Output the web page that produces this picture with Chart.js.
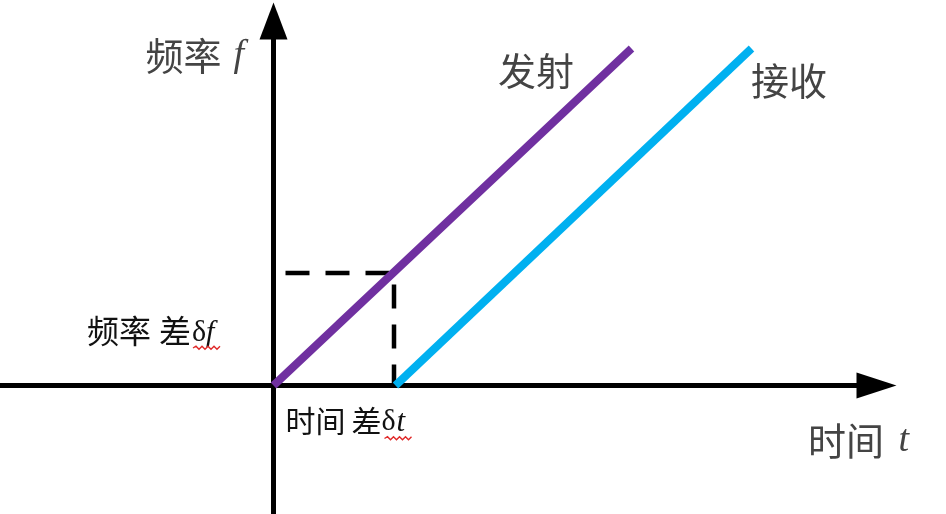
<!DOCTYPE html>
<html>
<head>
<meta charset="utf-8">
<script src="https://cdn.jsdelivr.net/npm/chart.js@4.4.0/dist/chart.umd.min.js"></script>
<style>
  html, body { margin: 0; padding: 0; background: #fff; }
  #wrap { width: 946px; height: 514px; }
</style>
</head>
<body>
<div id="wrap"><canvas id="chirp"></canvas></div>
<script>
// transmitted / received chirp (time, frequency)
const sendT = [0, 358];
const sendF = [0, 337];
const recvT = [122, 478];
const recvF = [0, 337];
// dashed guide: delta f level and delta t
const guideT = [12, 120.5, 120.5];
const guideF = [112.5, 112.5, 0];
// axis line extents
const axisT = [-274, 584];
const axisF = [-129, 347];

const pts = (xs, ys) => xs.map((x, i) => ({ x: x, y: ys[i] }));

// arrow heads + labels
const sketchPlugin = {
  id: "sketch",
  afterDatasetsDraw(chart) {
    const ctx = chart.ctx;
    const sx = chart.scales.x, sy = chart.scales.y;
    const x0 = sx.getPixelForValue(0), y0 = sy.getPixelForValue(0);
    const xEnd = sx.getPixelForValue(axisT[1]);
    const yEnd = sy.getPixelForValue(axisF[1]);
    ctx.save();
    ctx.fillStyle = "#000";
    // x arrow
    ctx.beginPath();
    ctx.moveTo(xEnd - 1, y0 - 13);
    ctx.lineTo(xEnd + 39, y0);
    ctx.lineTo(xEnd - 1, y0 + 13);
    ctx.closePath();
    ctx.fill();
    // y arrow
    ctx.beginPath();
    ctx.moveTo(x0 - 14, yEnd + 1);
    ctx.lineTo(x0, yEnd - 36);
    ctx.lineTo(x0 + 14, yEnd + 1);
    ctx.closePath();
    ctx.fill();
    ctx.restore();
  },
  afterDraw(chart) {
    const ctx = chart.ctx;
    const sx = chart.scales.x, sy = chart.scales.y;
    const x0 = sx.getPixelForValue(0), y0 = sy.getPixelForValue(0);
    const cjk = '"Noto Sans CJK SC", "Noto Sans", sans-serif';
    const serif = '"Liberation Serif", "DejaVu Serif", serif';

    function txt(s, x, y, font, color) {
      ctx.font = font;
      ctx.fillStyle = color;
      ctx.textAlign = "left";
      ctx.textBaseline = "middle";
      ctx.fillText(s, x, y);
    }
    function squiggle(x1, x2, y) {
      ctx.save();
      ctx.strokeStyle = "#e02828";
      ctx.lineWidth = 1.4;
      ctx.beginPath();
      let up = true;
      ctx.moveTo(x1, y);
      for (let x = x1 + 3; x <= x2; x += 3) {
        ctx.lineTo(x, up ? y - 1.8 : y + 1.2);
        up = !up;
      }
      ctx.stroke();
      ctx.restore();
    }

    ctx.save();
    // 频率 f
    txt("频率", x0 - 128, 56, "38px " + cjk, "#444");
    txt("f", x0 - 40, 56, "italic 38px " + serif, "#444");
    // 发射 / 接收
    txt("发射", 498, 71, "38px " + cjk, "#444");
    txt("接收", 751, 81, "38px " + cjk, "#444");
    // 时间 t
    txt("时间", 808, 441, "38px " + cjk, "#444");
    txt("t", x0 + 625, 441, "italic 38px " + serif, "#444");

    // 频率 差δf
    txt("频率", 87, 331, "32px " + cjk, "#111");
    txt("差", 159, 331, "32px " + cjk, "#111");
    txt("δ", 192, 333, "30px " + serif, "#111");
    txt("f", 206, 333, "italic 30px " + serif, "#111");
    squiggle(193, 220, 348);

    // 时间 差δt
    txt("时间", x0 + 12, y0 + 35, "30px " + cjk, "#111");
    txt("差", x0 + 78, y0 + 35, "30px " + cjk, "#111");
    txt("δ", x0 + 108, y0 + 37, "30px " + serif, "#111");
    txt("t", x0 + 123, y0 + 37, "italic 31px " + serif, "#111");
    squiggle(x0 + 111, x0 + 138, y0 + 53);
    ctx.restore();
  }
};

const chirpChart = new Chart(document.getElementById("chirp"), {
  type: "scatter",
  data: {
    datasets: [
      {
        label: "发射",
        data: pts(sendT, sendF),
        showLine: true,
        borderColor: "#7030A0",
        borderWidth: 8,
        borderCapStyle: "butt",
        pointRadius: 0,
      },
      {
        label: "接收",
        data: pts(recvT, recvF),
        showLine: true,
        borderColor: "#00B0F0",
        borderWidth: 8,
        borderCapStyle: "butt",
        pointRadius: 0,
      },
      {
        label: "guide",
        data: pts(guideT, guideF),
        showLine: true,
        borderColor: "#000",
        borderWidth: 4.5,
        borderDash: [24, 16],
        borderCapStyle: "butt",
        pointRadius: 0,
      },
      {
        label: "t axis",
        data: pts(axisT, [0, 0]),
        showLine: true,
        borderColor: "#000",
        borderWidth: 5,
        pointRadius: 0,
      },
      {
        label: "f axis",
        data: pts([0, 0], axisF),
        showLine: true,
        borderColor: "#000",
        borderWidth: 5,
        pointRadius: 0,
      },
    ],
  },
  options: {
    responsive: true,
    maintainAspectRatio: false,
    animation: false,
    events: [],
    layout: { padding: 0 },
    scales: {
      x: { type: "linear", min: -273.5, max: 672.5, display: false },
      y: { type: "linear", min: -128.5, max: 385.5, display: false },
    },
    plugins: {
      legend: { display: false },
      tooltip: { enabled: false },
    },
  },
  plugins: [sketchPlugin],
});
</script>
</body>
</html>
